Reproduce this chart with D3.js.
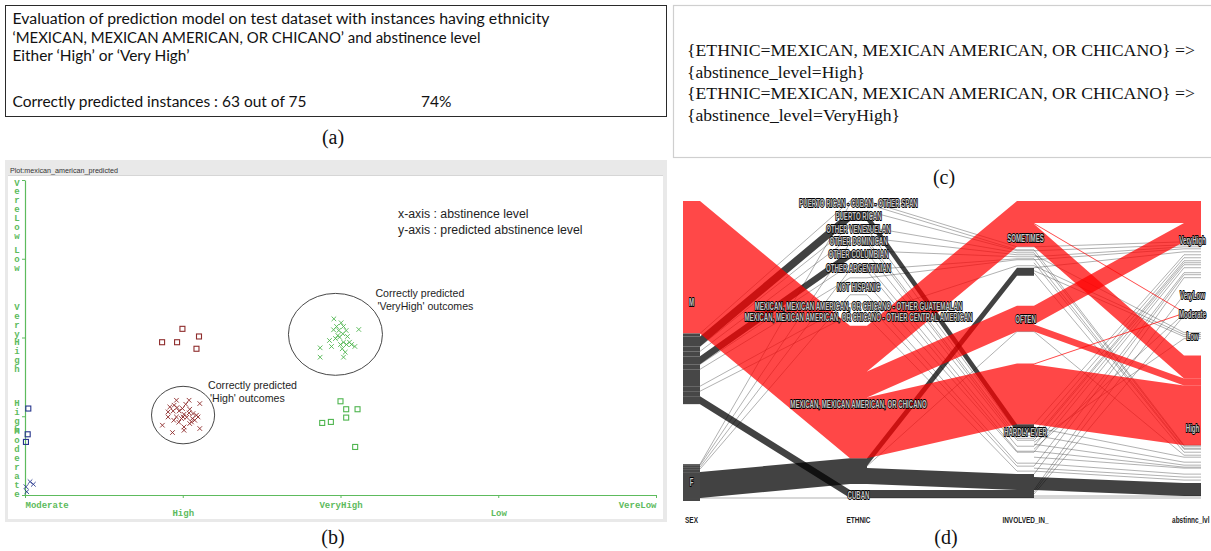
<!DOCTYPE html>
<html>
<head>
<meta charset="utf-8">
<script src="https://cdn.jsdelivr.net/npm/d3@7/dist/d3.min.js"></script>
<style>
html,body{margin:0;padding:0;background:#fff;}
svg{display:block;}
</style>
</head>
<body>
<svg id="fig" width="1211" height="551" viewBox="0 0 1211 551"></svg>
<script>
// ===================== DATA =====================
// (a) evaluation summary
const evalLines = [
  "Evaluation of prediction model on test dataset with instances  having ethnicity",
  "‘MEXICAN, MEXICAN AMERICAN, OR CHICANO’ and abstinence level",
  "Either ‘High’ or ‘Very High’"
];
const evalCorrect = 63;
const evalTotal = 75;
const evalPercentLabel = "74%";

// (c) association rules
const ruleLines = [
  "{ETHNIC=MEXICAN, MEXICAN AMERICAN, OR CHICANO} =>",
  "{abstinence_level=High}",
  "{ETHNIC=MEXICAN, MEXICAN AMERICAN, OR CHICANO} =>",
  "{abstinence_level=VeryHigh}"
];

// (b) Weka visualisation: x = actual abstinence level, y = predicted level
const plotName = "Plot:mexican_american_predicted";
const abstinenceLevels = ["Moderate", "High", "VeryHigh", "Low", "VereLow"];
const axisNotes = ["x-axis : abstinence level", "y-axis : predicted abstinence level"];
// jitter of each plotted instance, in category steps [dx, dy(up)]
const highAsHigh = [
  [-0.040,0.203],[0.040,0.203],[0.108,0.161],[-0.082,0.118],[-0.055,0.140],[-0.036,0.110],
  [-0.002,0.098],[0.044,0.089],[-0.093,0.055],[-0.061,0.067],[-0.023,0.067],[0.008,0.025],
  [0.040,0.042],[0.065,0.034],[0.087,0.013],[-0.093,-0.009],[-0.040,-0.009],[0.002,-0.009],
  [0.061,-0.029],[0.097,-0.009],[-0.057,-0.051],[-0.008,-0.029],[0.055,-0.072],[-0.129,-0.114],
  [-0.065,-0.207],[0.008,-0.136],[0.008,-0.178],[0.108,-0.156],[0.044,-0.093],[0.019,0.152],
  [-0.025,-0.076],[0.076,-0.051],[0.025,-0.013]
];
const veryHighAsVeryHigh = [
  [-0.042,0.237],[0.004,0.187],[0.019,0.140],[-0.044,0.098],[-0.011,0.089],[0.036,0.089],
  [0.116,0.102],[-0.017,0.025],[0.015,0.047],[-0.006,0.004],[-0.070,-0.038],[0.019,-0.060],
  [0.057,-0.060],[0.070,-0.089],[0.091,-0.114],[-0.129,-0.131],[0.011,-0.143],[0.030,-0.187],
  [-0.129,-0.250],[0.019,-0.250],[-0.032,-0.013],[0.038,-0.089],[-0.025,0.140],[0.044,0.013],
  [-0.057,-0.114],[0.000,-0.089]
];
const highAsVeryHigh = [[-0.002,0.110],[-0.131,-0.060],[-0.036,-0.060],[0.103,0.013],[0.087,-0.143]];
const veryHighAsHigh = [[0.000,0.190],[0.036,0.089],[0.108,0.089],[0.036,-0.017],[-0.116,-0.085],[-0.061,-0.072],[0.093,-0.390]];
const moderateAsHigh = [[0.021,0.098],[0.017,-0.229],[0.006,-0.326]];
const moderateAsModerate = [[0.032,0.169],[0.053,0.136],[0.006,0.105],[0.011,0.042]];
const circledNotes = [
  {level: "VeryHigh", lines: ["Correctly predicted", "'VeryHigh' outcomes"]},
  {level: "High", lines: ["Correctly predicted", "'High' outcomes"]}
];

// (d) parallel sets
const dimensionNames = ["SEX", "ETHNIC", "INVOLVED_IN_", "abstinnc_lvl"];
const sexCats = ["M", "F"];
const ethnicCodes = ["PRCS","PR","VEN","DOM","COL","ARG","NH","GUA","CEN","MEX","CUB"];
const ethnicLabels = [
  "PUERTO RICAN - CUBAN - OTHER SPAN", "PUERTO RICAN", "OTHER VENEZUELAN", "OTHER DOMINICAN",
  "OTHER COLUMBIAN", "OTHER ARGENTINIAN", "NOT HISPANIC",
  "MEXICAN, MEXICAN AMERICAN, OR CHICANO - OTHER GUATEMALAN",
  "MEXICAN, MEXICAN AMERICAN, OR CHICANO - OTHER CENTRAL AMERICAN",
  "MEXICAN, MEXICAN AMERICAN, OR CHICANO", "CUBAN"
];
const involvedCodes = ["S","O","H"];
const involvedLabels = ["SOMETIMES", "OFTEN", "HARDLY EVER"];
const abstCodes = ["VH","VL","MO","LO","HI"];
const abstLabels = ["VeryHigh", "VeryLow", "Moderate", "Low", "High"];
// [sex, ethnic, involved, abstinence, count]
const flowRows = [
  ["M","MEX","S","VH",22],["M","MEX","S","MO",1],["M","MEX","S","HI",23],
  ["M","MEX","O","VH",19],["M","MEX","O","HI",7],
  ["M","MEX","H","MO",1],["M","MEX","H","HI",60],
  ["M","PR","S","VH",2],["M","PR","H","VH",3],["M","PR","H","HI",5],
  ["M","COL","S","VH",2],["M","COL","H","VH",2],["M","COL","H","LO",2],["M","COL","H","HI",2],
  ["M","CUB","H","VH",2],["M","CUB","H","VL",2],["M","CUB","H","MO",2],["M","CUB","H","HI",2],
  ["M","PRCS","S","VH",3],
  ["M","VEN","S","HI",2],["M","VEN","H","VH",3],
  ["M","DOM","S","LO",2],["M","DOM","H","HI",3],
  ["M","ARG","H","VH",3],["M","ARG","H","MO",2],
  ["M","NH","S","VH",3],["M","NH","S","HI",3],["M","NH","H","VH",5],["M","NH","H","HI",6],
  ["M","GUA","H","VH",2],["M","GUA","H","HI",3],
  ["M","CEN","S","LO",2],["M","CEN","H","HI",3],
  ["F","PRCS","S","HI",1],
  ["F","DOM","H","VH",2],
  ["F","ARG","S","HI",1],["F","ARG","H","HI",1],
  ["F","NH","H","HI",3],
  ["F","MEX","S","VH",3],["F","MEX","S","LO",2],["F","MEX","S","HI",3],
  ["F","MEX","O","HI",2],
  ["F","MEX","H","VH",3],["F","MEX","H","HI",13],
  ["F","CUB","H","HI",3]
];
const highlightedPairs = ["M|MEX"];
const darkPairs = ["M|PR","M|COL","M|CUB","F|MEX"];

// ===================== DRAWING =====================
const svg = d3.select("#fig");
const serif = "'Liberation Serif','Times New Roman',serif";
const sans = "'Liberation Sans',Arial,sans-serif";

// ---------- (a) ----------
const gA = svg.append("g");
gA.append("rect").attr("x",5.5).attr("y",5.5).attr("width",661).attr("height",111)
  .attr("fill","#fff").attr("stroke","#2a2a2a").attr("stroke-width",1);
const aFont = "Lato,'Open Sans',sans-serif";
const aWidths = [537, 468, 177];
evalLines.forEach((t,i)=>{
  gA.append("text").attr("x",12.5).attr("y",23.8 + i*18.7).text(t)
    .attr("font-family",aFont).attr("font-size",15.5).attr("fill","#111")
    .attr("textLength",aWidths[i]).attr("lengthAdjust","spacingAndGlyphs");
});
gA.append("text").attr("x",12.5).attr("y",106.8)
  .text(`Correctly predicted instances : ${evalCorrect} out of ${evalTotal}`)
  .attr("font-family",aFont).attr("font-size",15.5).attr("fill","#111")
  .attr("textLength",294).attr("lengthAdjust","spacingAndGlyphs");
gA.append("text").attr("x",421).attr("y",106.8).text(evalPercentLabel)
  .attr("font-family",aFont).attr("font-size",15.5).attr("fill","#111");

// ---------- (c) ----------
const gC = svg.append("g");
gC.append("rect").attr("x",673.5).attr("y",5.5).attr("width",545).attr("height",152)
  .attr("fill","#fff").attr("stroke","#cfcfcf").attr("stroke-width",1.2);
const cWidths = [508, 178, 508, 213];
ruleLines.forEach((t,i)=>{
  gC.append("text").attr("x",687).attr("y",[56,78,99,121][i]).text(t)
    .attr("font-family",serif).attr("font-size",17.5).attr("fill","#111")
    .attr("textLength",cWidths[i]).attr("lengthAdjust","spacingAndGlyphs");
});

// panel captions
[["(a)",333,144],["(b)",333,544],["(c)",944,184],["(d)",946,544]].forEach(([t,x,y])=>{
  svg.append("text").attr("x",x).attr("y",y).attr("text-anchor","middle").text(t)
    .attr("font-family",serif).attr("font-size",20).attr("fill","#111");
});

// ---------- (b) ----------
const gB = svg.append("g");
gB.append("rect").attr("x",5).attr("y",160).attr("width",662).attr("height",362).attr("fill","#e9e9e9");
gB.append("rect").attr("x",8).attr("y",176).attr("width",655).attr("height",343).attr("fill","#fff");
gB.append("line").attr("x1",8).attr("x2",663).attr("y1",175.5).attr("y2",175.5).attr("stroke","#d6d6d6");
gB.append("text").attr("x",10).attr("y",173).text(plotName)
  .attr("font-family",sans).attr("font-size",8).attr("fill","#333")
  .attr("textLength",108).attr("lengthAdjust","spacingAndGlyphs");

const green = "#5dbb5d";
const mono = "'Liberation Mono','DejaVu Sans Mono',monospace";
const wx = d3.scalePoint().domain(abstinenceLevels).range([25,656]);
const wy = d3.scalePoint().domain(abstinenceLevels).range([495,180]);

const gx = gB.append("g").attr("transform","translate(0,495)")
  .call(d3.axisBottom(wx).tickSizeInner(3).tickSizeOuter(0));
gx.select(".domain").attr("stroke",green).attr("stroke-width",1.2);
gx.selectAll(".tick line").attr("stroke",green);
gx.selectAll(".tick text").attr("fill",green).attr("font-family",mono).attr("font-size",9)
  .attr("font-weight","bold").attr("dy",null)
  .attr("y",(d,i)=> i%2 ? 21 : 12.5)
  .attr("text-anchor",(d,i)=> i===0 ? "start" : (i===abstinenceLevels.length-1 ? "end" : "middle"));

const gy = gB.append("g").attr("transform","translate(25,0)")
  .call(d3.axisLeft(wy).tickSizeInner(3).tickSizeOuter(0));
gy.select(".domain").attr("stroke",green).attr("stroke-width",1.2);
gy.selectAll(".tick line").attr("stroke",green);
gy.selectAll(".tick text").each(function(d,i){
  const t = d3.select(this);
  t.text(null).attr("dy",null).attr("text-anchor","middle").attr("fill",green)
    .attr("font-family",mono).attr("font-size",9).attr("font-weight","bold");
  const chars = d.split(""), n = chars.length, sp = 8.9;
  let first;
  if (i === 0) first = -2 - (n-1)*sp;
  else if (i === abstinenceLevels.length-1) first = 2;
  else first = -(n-1)*sp/2;
  chars.forEach((ch,j)=> t.append("tspan").attr("x",-8).attr("y", first + j*sp + 3).text(ch));
});

const classColor = {Moderate:"#26358c", High:"#8e2c2c", VeryHigh:"#4fb54f"};
const plotGroups = [
  {actual:"High", predicted:"High", jitter:highAsHigh},
  {actual:"VeryHigh", predicted:"VeryHigh", jitter:veryHighAsVeryHigh},
  {actual:"High", predicted:"VeryHigh", jitter:highAsVeryHigh},
  {actual:"VeryHigh", predicted:"High", jitter:veryHighAsHigh},
  {actual:"Moderate", predicted:"High", jitter:moderateAsHigh},
  {actual:"Moderate", predicted:"Moderate", jitter:moderateAsModerate}
];
const pts = plotGroups.flatMap(g => g.jitter.map(j => ({
  x: wx(g.actual) + j[0]*wx.step(),
  y: wy(g.predicted) - j[1]*wy.step(),
  color: classColor[g.actual],
  correct: g.actual === g.predicted
})));
const gP = gB.append("g");
gP.selectAll("path.cross").data(pts.filter(p=>p.correct)).join("path").attr("class","cross")
  .attr("d",p=>`M${p.x-2.3},${p.y-2.3}L${p.x+2.3},${p.y+2.3}M${p.x-2.3},${p.y+2.3}L${p.x+2.3},${p.y-2.3}`)
  .attr("stroke",p=>p.color).attr("stroke-width",0.9).attr("fill","none");
gP.selectAll("rect.miss").data(pts.filter(p=>!p.correct)).join("rect").attr("class","miss")
  .attr("x",p=>p.x-2.5).attr("y",p=>p.y-2.5).attr("width",5).attr("height",5)
  .attr("fill","none").attr("stroke",p=>p.color).attr("stroke-width",1.1);

// ellipse annotations (radius in category steps)
const ellipseShape = {
  VeryHigh: {rx:0.298, ry:0.52, dx:-0.032, dy:0.04, tx:40, ty:-37},
  High: {rx:0.2, ry:0.365, dx:0.002, dy:0.015, tx:25, ty:-26}
};
circledNotes.forEach(c=>{
  const s = ellipseShape[c.level];
  const cx = wx(c.level) + s.dx*wx.step(), cy = wy(c.level) - s.dy*wy.step();
  gB.append("ellipse").attr("cx",cx).attr("cy",cy)
    .attr("rx",s.rx*wx.step()).attr("ry",s.ry*wy.step())
    .attr("fill","none").attr("stroke","#333").attr("stroke-width",0.9);
  c.lines.forEach((l,i)=>{
    gB.append("text").attr("x",cx + s.tx + i*2).attr("y",cy + s.ty + i*13).text(l)
      .attr("font-family",sans).attr("font-size",10.6).attr("fill","#1e1e1e");
  });
});
axisNotes.forEach((t,i)=>{
  gB.append("text").attr("x",398).attr("y",217.5 + i*16).text(t)
    .attr("font-family",sans).attr("font-size",12.3).attr("fill","#1e1e1e");
});

// ---------- (d) parallel sets ----------
const gD = svg.append("g");
const dimCats = [sexCats, ethnicCodes, involvedCodes, abstCodes];
const dimLabels = [sexCats, ethnicLabels, involvedLabels, abstLabels];
const catIndex = dimCats.map(cs => new Map(cs.map((c,i)=>[c,i])));
const flows = flowRows.map(r => ({path: r.slice(0,4), n: r[4]}));
const total = d3.sum(flows, f=>f.n);
const yTop = 201, yBot = 501, H = yBot - yTop;
const axX = d3.scalePoint().domain(dimensionNames).range([691.5, 1192.5]);
const barW = 17;
const k = d3.scaleLinear().domain([0,total]).range([0, H*0.8]);
const thinLimit = 7;   // dark groups smaller than this are drawn as hairlines

const catPos = dimCats.map((cats,d)=>{
  const counts = cats.map(c => d3.sum(flows.filter(f=>f.path[d]===c), f=>f.n));
  const gap = (H - k(d3.sum(counts))) / (cats.length-1);
  let y = yTop; const m = new Map();
  cats.forEach((c,i)=>{ m.set(c,{y0:y, y1:y+k(counts[i])}); y += k(counts[i]) + gap; });
  return m;
});

function colorOf(p){
  const key = p[0] + "|" + p[1];
  if (highlightedPairs.includes(key)) return "red";
  if (darkPairs.includes(key)) return "dark";
  return "light";
}
const rank = g => g.color === "red" ? 0 : 1;

let nodes = sexCats.map(c => ({prefix:[c], y0:catPos[0].get(c).y0, y1:catPos[0].get(c).y1}));
const ribbons = [];
for (let d = 0; d < dimCats.length-1; d++) {
  const gs = d3.rollups(flows, v=>d3.sum(v,f=>f.n), f=>f.path.slice(0,d+2).join("|"))
    .map(([key,n]) => { const p = key.split("|"); return {prefix:p, n, color:colorOf(p), d}; });
  nodes.forEach(node=>{
    const pk = node.prefix.join("|");
    const out = gs.filter(g => g.prefix.slice(0,d+1).join("|") === pk)
      .sort((a,b)=> rank(a)-rank(b) || catIndex[d+1].get(a.prefix[d+1]) - catIndex[d+1].get(b.prefix[d+1]));
    let y = node.y0;
    out.forEach(g=>{ g.s0 = y; y += k(g.n); g.s1 = y; });
  });
  const next = [];
  dimCats[d+1].forEach(c=>{
    const inc = gs.filter(g => g.prefix[d+1] === c).sort((a,b)=> rank(a)-rank(b) || a.s0-b.s0);
    let y = catPos[d+1].get(c).y0;
    inc.forEach(g=>{ g.t0 = y; y += k(g.n); g.t1 = y; next.push({prefix:g.prefix, y0:g.t0, y1:g.t1}); });
  });
  ribbons.push(...gs);
  nodes = next;
}
ribbons.forEach(r => { r.draw = (r.color === "dark" && r.n < thinLimit) ? "light" : r.color; });

// SEX bars
ribbons.filter(r=>r.d===0).forEach(r=>{
  gD.append("rect").attr("x",axX(dimensionNames[0])-barW/2).attr("y",r.s0)
    .attr("width",barW).attr("height",r.s1-r.s0)
    .attr("fill", r.color==="red" ? "#ff4848" : "#474747");
});

function ribbonPath(r){
  const xs = axX(dimensionNames[r.d]) + barW/2;
  const xt = axX(dimensionNames[r.d+1]) - barW/2;
  const p = d3.path();
  p.moveTo(xs, r.s0); p.lineTo(xt, r.t0); p.lineTo(xt+barW, r.t0);
  p.lineTo(xt+barW, r.t1); p.lineTo(xt, r.t1); p.lineTo(xs, r.s1); p.closePath();
  return p.toString();
}
function topEdge(r){
  const xs = axX(dimensionNames[r.d]) + barW/2;
  const xt = axX(dimensionNames[r.d+1]) - barW/2;
  return `M${xs},${r.s0}L${xt},${r.t0}L${xt+barW},${r.t0}`;
}

gD.append("g").selectAll("path").data(ribbons.filter(r=>r.draw==="light")).join("path")
  .attr("d",topEdge).attr("fill","none").attr("stroke","#505050").attr("stroke-width",0.6).attr("opacity",0.75);
gD.append("g").selectAll("path").data(ribbons.filter(r=>r.draw==="dark")).join("path")
  .attr("d",ribbonPath).attr("fill","#000").attr("fill-opacity",0.74);
gD.append("g").selectAll("path").data(ribbons.filter(r=>r.draw==="red")).join("path")
  .attr("d",ribbonPath).attr("fill","#ff0000").attr("fill-opacity",0.72);

// condensed outlined label helper
function condensedLabel(parent, text, x, y, size, squeeze, style){
  const g = parent.append("g");
  const t = g.append("text").attr("text-anchor","middle").text(text)
    .attr("font-family",sans).attr("font-size",size).attr("font-weight","bold");
  style(t);
  const w = t.node().getComputedTextLength()*squeeze;
  const rightLimit = 1209.5;
  const xx = (x + w/2 > rightLimit) ? rightLimit - w/2 : x;
  g.attr("transform",`translate(${xx},${y}) scale(${squeeze},1)`);
  return g;
}
const gL = gD.append("g");
dimCats.forEach((cats,d)=>{
  cats.forEach((c,i)=>{
    const pos = catPos[d].get(c);
    condensedLabel(gL, dimLabels[d][i], axX(dimensionNames[d]), (pos.y0+pos.y1)/2 + 3.6, 10.5, 0.58, t=>
      t.attr("fill","#c9c9c9").attr("stroke","#000").attr("stroke-width",2)
       .attr("paint-order","stroke").attr("stroke-linejoin","round"));
  });
});
dimensionNames.forEach(n=>{
  condensedLabel(gD, n, axX(n), 523, 9, 0.72, t=> t.attr("fill","#222"));
});
</script>
</body>
</html>
